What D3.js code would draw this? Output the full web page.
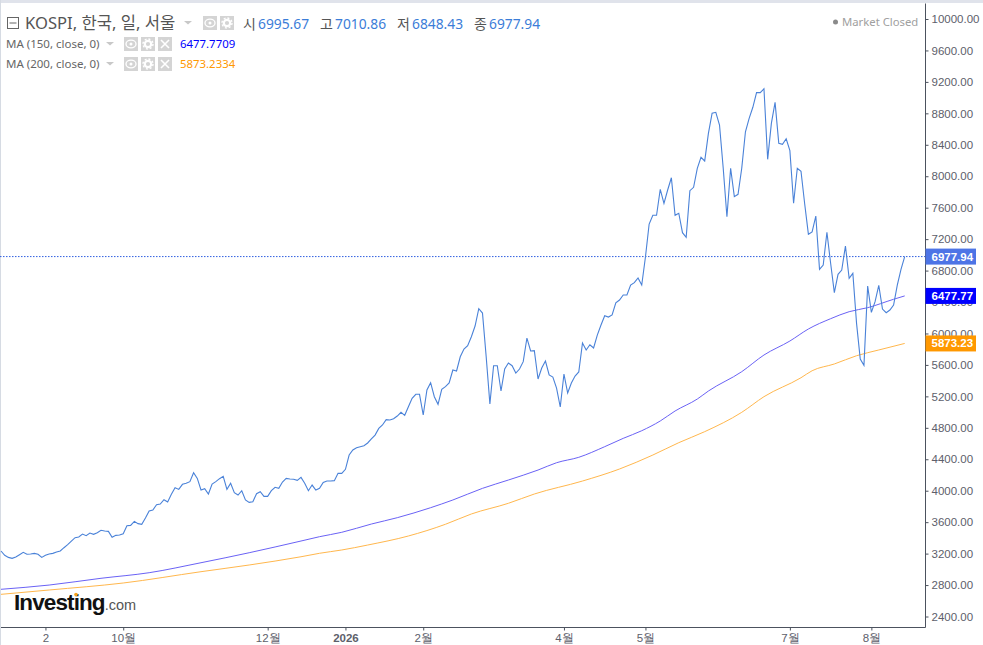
<!DOCTYPE html>
<html>
<head>
<meta charset="utf-8">
<script src="https://cdn.jsdelivr.net/npm/d3@7"></script>
<style>
  html, body { margin: 0; padding: 0; background: #fff; }
  svg { display: block; }
  .head { font-family: "Noto Sans", "Noto Sans CJK KR", sans-serif; }
  .axis text { font-family: "Liberation Sans", Arial, sans-serif; font-size: 11.5px; fill: #5d606b; }
  .axis path, .axis line { stroke: #4c525e; }
</style>
</head>
<body>
<svg width="983" height="645"></svg>
<script>
// daily closes
const closes = [
  3233,3178,3152,3140,3157,3186,3216,3191,3195,3203,3191,3152,3178,3195,3203,3220,3233,3275,3314,3360,
  3403,3411,3449,3428,3462,3445,3466,3496,3487,3483,3407,3432,3436,3453,3555,3559,3610,3581,3572,3653,
  3742,3754,3822,3831,3886,3856,3954,4039,4017,4081,4094,4115,4229,4157,4009,4026,3958,4085,4115,4153,
  4183,4017,4094,3975,3945,4000,3882,3852,3860,3962,3988,3928,3928,4000,4043,4030,4111,4157,4149,4145,
  4132,4170,4094,4000,4072,4009,4030,4106,4123,4123,4128,4221,4221,4272,4454,4518,4547,4560,4573,4607,
  4658,4708,4793,4836,4904,4899,4916,4950,4997,4959,5069,5175,5226,5226,4963,5281,5374,5196,5099,5289,
  5323,5370,5535,5523,5704,5802,5844,5959,6095,6315,6260,5704,5103,5590,5590,5268,5548,5624,5590,5497,
  5548,5641,5942,5777,5781,5421,5561,5650,5472,5446,5306,5065,5484,5243,5370,5459,5510,5879,5790,5857,
  5815,5980,6108,6226,6209,6235,6391,6426,6489,6489,6616,6646,6706,6616,6973,7392,7503,7503,7834,7656,
  7825,7981,7503,7529,7282,7223,7816,7859,8101,8241,8194,8546,8801,8813,8652,8101,7485,8101,7740,7770,
  8101,8566,8737,8877,9063,9063,9113,8215,8673,8940,8419,8406,8477,8325,7656,8101,8063,7647,7261,7291,
  7494,6816,6871,7287,6893,6519,6753,6807,7113,6702,6765,6129,5675,5595,6604,6269,6404,6613,6311,6264,
  6298,6362,6616,6816,6977.94
]

// moving averages, read at these bars
const ma150Bars = [0,13,27,40,54,67,81,86,92,100,107,116,122,130,137,145,150,156,163,168,173,178,182,188,191,200,206,213,218,224,229,234,241,244]
const ma150Values = [2746,2800,2886,2957,3084,3211,3360,3415,3471,3576,3657,3784,3882,4030,4136,4263,4356,4425,4560,4666,4763,4887,5014,5166,5268,5514,5726,5904,6057,6188,6277,6328,6435,6477.77]
const ma200Bars = [0,13,33,54,67,81,86,92,99,110,120,127,137,144,157,167,176,183,190,200,206,216,219,225,231,237,244]
const ma200Values = [2682,2737,2826,2970,3055,3160,3204,3246,3309,3424,3573,3704,3840,3958,4123,4276,4454,4611,4751,4997,5196,5437,5526,5612,5717,5790,5873.23]

const priceTicks = [10000,9600,9200,8800,8400,8000,7600,7200,6800,6400,6000,5600,5200,4800,4400,4000,3600,3200,2800,2400]
const timeTickBars = [12,33,72,93,114,152,174,213,235]
const timeTickLabels = ['2','10월','12월','2026','2월','4월','5월','7월','8월']

const svg = d3.select('svg')
const width = +svg.attr('width')
const height = +svg.attr('height')

const plotRight = 925.5
const plotBottom = 627.5

const xScale = d3.scaleLinear().domain([0, closes.length - 1]).range([1, 904.7])
const yScale = d3.scaleLinear().domain([2400, 10000]).range([616.5, 19])

// grey frame of the widget
svg.append('rect').attr('width', width).attr('height', 3).attr('fill', '#e0e3eb')
svg.append('rect').attr('width', 1).attr('height', height).attr('fill', '#d6dbe3')

// last price dotted line
svg.append('line')
  .attr('x1', 0).attr('x2', plotRight)
  .attr('y1', yScale(6977.94)).attr('y2', yScale(6977.94))
  .attr('stroke', '#2f5fe0').attr('stroke-dasharray', '1.5,1.5')

const lineFrom = (bars, values, curve) => d3.line()
  .curve(curve)
  .x((d, i) => xScale(bars[i]))
  .y(d => yScale(d))(values)

svg.append('path')
  .attr('d', lineFrom(ma200Bars, ma200Values, d3.curveMonotoneX))
  .attr('fill', 'none').attr('stroke', '#ffb74d').attr('stroke-width', 1)
svg.append('path')
  .attr('d', lineFrom(ma150Bars, ma150Values, d3.curveMonotoneX))
  .attr('fill', 'none').attr('stroke', '#6a62f5').attr('stroke-width', 1)
svg.append('path')
  .attr('d', lineFrom(d3.range(closes.length), closes, d3.curveLinear))
  .attr('fill', 'none').attr('stroke', '#4a82d8').attr('stroke-width', 1.1)

// axes
const yAxis = d3.axisRight(yScale)
  .tickValues(priceTicks)
  .tickFormat(d3.format('.2f'))
  .tickSize(3).tickPadding(3)
const yAxisG = svg.append('g').attr('class', 'axis')
  .attr('transform', `translate(${plotRight},0)`)
  .call(yAxis)
yAxisG.select('.domain').attr('d', `M0,3.5V${plotBottom}`)

const xAxis = d3.axisBottom(xScale)
  .tickValues(timeTickBars)
  .tickFormat((d, i) => timeTickLabels[i])
  .tickSize(3).tickPadding(3)
const xAxisG = svg.append('g').attr('class', 'axis')
  .attr('transform', `translate(0,${plotBottom})`)
  .call(xAxis)
xAxisG.select('.domain').attr('d', `M1,0H${plotRight}`)
xAxisG.selectAll('text').filter(d => d === 93).style('font-weight', 'bold')

// price flags on the axis
const flags = [
  {value: 6977.94, color: '#4d74e6'},
  {value: 6477.77, color: '#0000ff'},
  {value: 5873.23, color: '#ff9800'}
]
flags.forEach(f => {
  svg.append('rect')
    .attr('x', plotRight).attr('y', yScale(f.value) - 8)
    .attr('width', 50.5).attr('height', 16)
    .attr('fill', f.color)
  svg.append('text')
    .attr('x', plotRight + 6).attr('y', yScale(f.value) + 4)
    .attr('font-family', '"Liberation Sans", Arial, sans-serif')
    .attr('font-size', 11.5).attr('font-weight', 'bold')
    .attr('fill', '#fff')
    .text(f.value.toFixed(2))
})

// legend icons
const iconBox = (x, y, kind) => {
  const cx = x + 7, cy = y + 7
  svg.append('rect').attr('x', x).attr('y', y).attr('width', 14).attr('height', 14).attr('fill', '#d4d4d4')
  if (kind === 'close') {
    svg.append('path').attr('d', `M${cx - 4},${cy - 4}L${cx + 4},${cy + 4}M${cx + 4},${cy - 4}L${cx - 4},${cy + 4}`)
      .attr('stroke', '#fff').attr('stroke-width', 1.6)
  } else if (kind === 'eye') {
    svg.append('ellipse').attr('cx', cx).attr('cy', cy).attr('rx', 5).attr('ry', 3.8)
      .attr('fill', 'none').attr('stroke', '#fff').attr('stroke-width', 1.3)
    svg.append('circle').attr('cx', cx).attr('cy', cy).attr('r', 1.5).attr('fill', '#fff')
  } else {
    svg.append('circle').attr('cx', cx).attr('cy', cy).attr('r', 3.2)
      .attr('fill', 'none').attr('stroke', '#fff').attr('stroke-width', 2.2)
    svg.append('circle').attr('cx', cx).attr('cy', cy).attr('r', 5)
      .attr('fill', 'none').attr('stroke', '#fff').attr('stroke-width', 1.4).attr('stroke-dasharray', '2,1.9')
  }
}
const caret = (x, y) => svg.append('path')
  .attr('d', `M${x},${y}h8l-4,3.5z`).attr('fill', '#c8c8c8')

const headText = (x, y, str, size, color, weight) => svg.append('text')
  .attr('class', 'head')
  .attr('x', x).attr('y', y)
  .attr('font-size', size).attr('fill', color)
  .attr('font-weight', weight || 'normal')
  .text(str)

// title row
svg.append('rect').attr('x', 7.5).attr('y', 17.5).attr('width', 11).attr('height', 11)
  .attr('fill', 'none').attr('stroke', '#666')
svg.append('line').attr('x1', 9.5).attr('x2', 16.5).attr('y1', 23).attr('y2', 23).attr('stroke', '#666')
headText(25, 29, 'KOSPI, 한국, 일, 서울', 16.6, '#555')
caret(184, 21)
iconBox(203, 16, 'eye')
iconBox(220, 16, 'gear')

const ohlcNames = ['시', '고', '저', '종']
const ohlcValues = ['6995.67', '7010.86', '6848.43', '6977.94']
const ohlcNameX = [243, 320, 397, 474]
const ohlcValueX = [258, 335, 412, 489]
ohlcNames.forEach((n, i) => {
  headText(ohlcNameX[i], 29, n, 14, '#555')
  headText(ohlcValueX[i], 29, ohlcValues[i], 13.8, '#3b7dd8')
})

// indicator rows
const maNames = ['MA (150, close, 0)', 'MA (200, close, 0)']
const maLast = ['6477.7709', '5873.2334']
const maColors = ['#0000ff', '#ff9800']
const maRowY = [37, 57]
maNames.forEach((n, i) => {
  const y = maRowY[i]
  headText(6, y + 11, n, 11.5, '#666')
  caret(106, y + 5)
  iconBox(124, y, 'eye')
  iconBox(141, y, 'gear')
  iconBox(158, y, 'close')
  headText(180, y + 11, maLast[i], 11.4, maColors[i])
})

// market state
svg.append('circle').attr('cx', 835.5).attr('cy', 22).attr('r', 2.5).attr('fill', '#8a8a8a')
headText(842, 26, 'Market Closed', 11.3, '#a0a0a0')

// watermark
const logo = svg.append('text')
  .attr('x', 14).attr('y', 610)
  .attr('font-family', '"Liberation Sans", Arial, sans-serif')
logo.append('tspan')
  .attr('font-size', 22.5).attr('font-weight', 'bold').attr('fill', '#111')
  .attr('letter-spacing', -0.9)
  .text('Investing')
logo.append('tspan')
  .attr('font-size', 14.5).attr('fill', '#555')
  .text('.com')
svg.append('circle').attr('cx', 76).attr('cy', 594.5).attr('r', 1.8).attr('fill', '#f6a21e')
</script>
</body>
</html>
